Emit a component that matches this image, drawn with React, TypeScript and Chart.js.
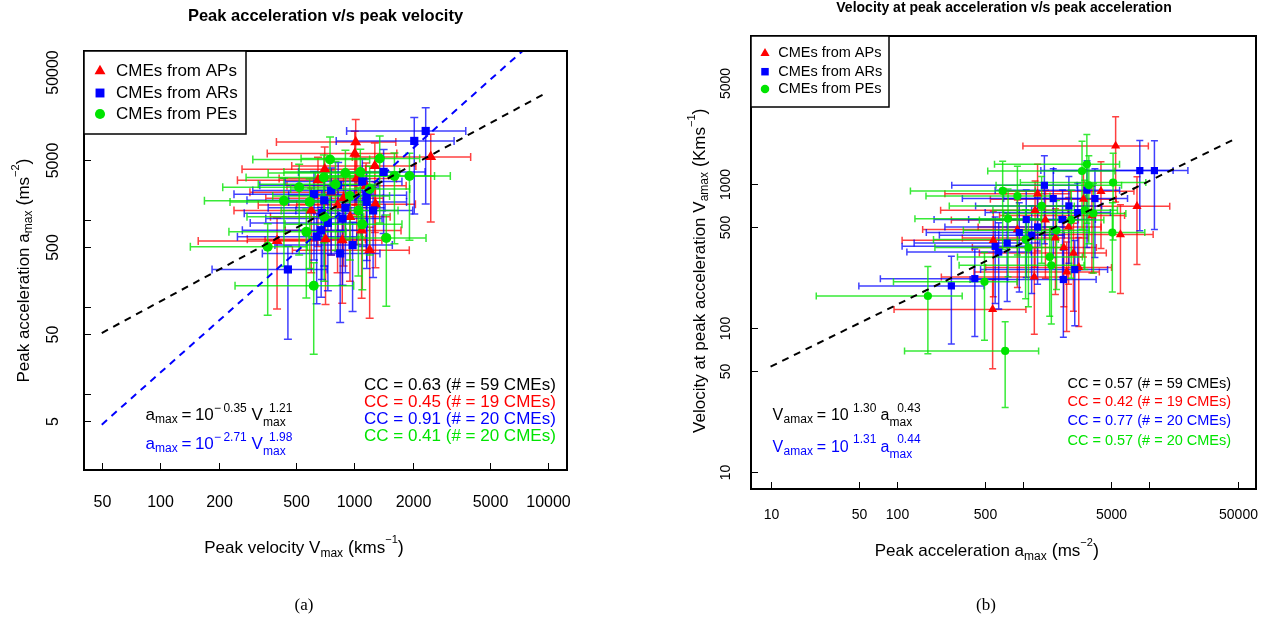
import React, { useEffect, useRef } from "react";
import { Chart, registerables } from "chart.js";

Chart.register(...registerables);

const SANS = '"Liberation Sans", Arial, Helvetica, sans-serif';
const SERIF = '"Liberation Serif", "DejaVu Serif", serif';
const RED = "rgb(255,0,0)";
const BLUE = "rgb(0,0,255)";
const GREEN = "rgb(0,228,0)";
const RED_BAR = "rgba(255,0,0,0.75)";
const BLUE_BAR = "rgba(0,0,255,0.75)";
const GREEN_BAR = "rgba(0,228,0,0.78)";

// ---------- Panel (a): peak velocity Vmax (km/s) vs peak acceleration amax (m/s^2)
const apVmax = [1017, 1006, 2477, 1276, 1285, 400, 1091, 704, 1030, 711, 867, 1200, 760, 880, 600, 1150, 950, 650, 820];
const apAmax = [7950, 5860, 5360, 4225, 1535, 581, 767, 3870, 3030, 608, 592, 455, 2100, 1800, 1300, 2500, 1100, 2900, 1500];
const apVmaxErr = [620, 650, 1500, 800, 780, 243, 650, 440, 620, 430, 520, 720, 470, 530, 360, 700, 580, 400, 500];
const apAmaxErr = [6450, 4700, 4400, 3500, 1250, 485, 640, 3100, 2500, 500, 480, 380, 1700, 1500, 1050, 2050, 900, 2400, 1250];

const arVmax = [2333, 2037, 1416, 826, 1159, 1159, 675, 731, 846, 455, 681, 760, 900, 640, 1100, 980, 620, 1250, 870, 700];
const arAmax = [10640, 8180, 3606, 2535, 1946, 1630, 771, 935, 417, 273, 1209, 2200, 1400, 650, 2800, 520, 2000, 1300, 1050, 1700];
const arVmaxErr = [1420, 1230, 900, 500, 700, 700, 410, 440, 510, 270, 410, 460, 540, 390, 660, 590, 380, 750, 520, 420];
const arAmaxErr = [9100, 7000, 2900, 2100, 1600, 1350, 640, 780, 350, 230, 1000, 1800, 1150, 540, 2300, 430, 1650, 1080, 870, 1400];

const peVmax = [750, 1352, 1610, 1924, 697, 434, 589, 566, 1462, 358, 618, 1074, 800, 950, 1100, 700, 1200, 520, 900, 1050];
const peAmax = [5000, 5130, 3240, 3240, 3105, 1675, 1630, 738, 629, 497, 177, 3600, 2600, 1900, 900, 1100, 2300, 2400, 3500, 1300];
const peVmaxErr = [450, 820, 980, 1200, 420, 265, 360, 340, 880, 215, 375, 640, 480, 570, 660, 420, 730, 310, 540, 630];
const peAmaxErr = [4100, 4200, 2700, 2650, 2550, 1380, 1350, 610, 526, 416, 148, 2950, 2150, 1550, 740, 900, 1900, 2000, 2900, 1070];

// fitted lines
const fitAllVmax = [50, 9440];
const fitAllAmax = [50.8, 28100];
const fitArVmax = [50, 7360];
const fitArAmax = [4.5, 88300];

const aXTicks = [50, 100, 200, 500, 1000, 2000, 5000, 10000];
const aXLabels = ["50", "100", "200", "500", "1000", "2000", "5000", "10000"];
const aYTicks = [5, 10, 50, 100, 500, 1000, 5000, 10000, 50000];
const aYLabels = ["5", "", "50", "", "500", "", "5000", "", "50000"];

// ---------- Panel (b): peak acceleration amax (m/s^2) vs velocity at peak acceleration (km/s)
const apAccB = [5395, 7960, 5890, 4130, 573, 2096, 1225, 2208, 2755, 2290, 1242, 580, 1500, 3000, 1800, 900, 2500, 1300, 3500];
const apVelB = [1824, 695, 443, 885, 134, 360, 225, 244, 262, 500, 653, 404, 560, 780, 420, 480, 330, 850, 600];
const apAccBErr = [4400, 6500, 4800, 3400, 478, 1700, 1000, 1800, 2250, 1850, 1020, 470, 1230, 2450, 1470, 740, 2050, 1060, 2850];
const apVelBErr = [1080, 420, 270, 530, 82, 220, 135, 150, 160, 300, 390, 240, 340, 470, 250, 290, 200, 510, 360];

const arAccB = [8380, 10940, 1472, 1730, 3700, 2700, 2050, 1057, 931, 747, 600, 640, 414, 270, 2560, 2080, 1167, 2300, 1300, 3200];
const arVelB = [1231, 1231, 973, 787, 787, 629, 563, 563, 457, 387, 367, 335, 219, 195, 253, 216, 438, 700, 500, 900];
const arAccBErr = [7000, 9200, 1200, 1400, 3000, 2200, 1680, 860, 760, 610, 490, 520, 340, 220, 2100, 1700, 950, 1880, 1060, 2600];
const arVelBErr = [760, 750, 590, 480, 480, 380, 340, 340, 280, 235, 220, 200, 132, 118, 150, 130, 265, 420, 300, 540];

const peAccB = [3193, 2924, 3310, 5150, 688, 759, 3076, 1836, 5080, 1622, 1671, 494, 176, 720, 1045, 2400, 1400, 3600, 900, 1100];
const peVelB = [1361, 1223, 973, 1016, 889, 571, 653, 474, 457, 310, 271, 208, 166, 69, 409, 560, 700, 620, 820, 360];
const peAccBErr = [2600, 2400, 2700, 4200, 560, 620, 2500, 1500, 4100, 1320, 1360, 400, 153, 605, 850, 1950, 1140, 2900, 730, 900];
const peVelBErr = [830, 740, 590, 610, 540, 345, 400, 290, 280, 190, 165, 126, 100, 41, 250, 340, 420, 380, 500, 220];

const fitAllAccB = [10, 47000];
const fitAllVelB = [53.7, 2030];

const bXTicks = [10, 50, 100, 500, 1000, 5000, 10000, 50000];
const bXLabels = ["10", "50", "100", "500", "", "5000", "", "50000"];
const bYTicks = [10, 50, 100, 500, 1000, 5000, 10000];
const bYLabels = ["10", "50", "100", "500", "1000", "5000", ""];

// ---------- helpers
const pts = (xs: number[], ys: number[]) => xs.map((x, i) => ({ x, y: ys[i] }));

type Group = { xs: number[]; ys: number[]; dx: number[]; dy: number[]; color: string };
type TextItem = [string, number, number, number]; // text, x, baseline y, size
type RichPart = { t: string; s: number; dy?: number };

function shape(ctx: CanvasRenderingContext2D, kind: string, x: number, y: number, r: number, color: string) {
  ctx.fillStyle = color;
  ctx.beginPath();
  if (kind === "triangle") {
    ctx.moveTo(x, y - r);
    ctx.lineTo(x + r * 0.866, y + r * 0.5);
    ctx.lineTo(x - r * 0.866, y + r * 0.5);
    ctx.closePath();
  } else if (kind === "rect") {
    const s = r * Math.SQRT1_2;
    ctx.rect(x - s, y - s, 2 * s, 2 * s);
  } else {
    ctx.arc(x, y, r, 0, Math.PI * 2);
  }
  ctx.fill();
}

function richWidth(ctx: CanvasRenderingContext2D, parts: RichPart[]) {
  let w = 0;
  for (const p of parts) {
    ctx.font = `${p.s}px ${SANS}`;
    w += ctx.measureText(p.t).width;
  }
  return w;
}

function drawRich(ctx: CanvasRenderingContext2D, parts: RichPart[], x0: number, y: number) {
  let x = x0;
  ctx.textAlign = "left";
  ctx.textBaseline = "alphabetic";
  for (const p of parts) {
    ctx.font = `${p.s}px ${SANS}`;
    ctx.fillText(p.t, x, y + (p.dy || 0));
    x += ctx.measureText(p.t).width;
  }
}

interface PanelSpec {
  id: string;
  groups: Group[];
  cap: number;
  xTicks: number[];
  xLabels: string[];
  yTicks: number[];
  yLabels: string[];
  tickLen: number;
  tickFont: number;
  xLabelY: number;
  yLabelX: number;
  title: string;
  titleSize: number;
  titleX: number;
  titleY: number;
  legend: { x0: number; y0: number; x1: number; y1: number; mx: number; tx: number; ys: number[]; size: number; r: number };
  cc: { x: number; ys: number[]; size: number; texts: string[] };
  eqBlack: TextItem[];
  eqBlue: TextItem[];
  xTitle: { parts: RichPart[]; cx: number; base: number };
  yTitle: { parts: RichPart[]; cy: number; base: number };
  caption: { t: string; x: number; y: number };
}

function makeDecor(spec: PanelSpec) {
  return {
    id: spec.id,
    beforeDatasetsDraw(chart: any) {
      const { ctx, chartArea: ca, scales } = chart;
      const xs = scales.x;
      const ys = scales.y;
      ctx.save();
      ctx.beginPath();
      ctx.rect(ca.left, ca.top, ca.right - ca.left, ca.bottom - ca.top);
      ctx.clip();
      ctx.lineWidth = 1.5;
      const h = spec.cap / 2;
      for (const g of spec.groups) {
        ctx.strokeStyle = g.color;
        for (let i = 0; i < g.xs.length; i++) {
          const px = xs.getPixelForValue(g.xs[i]);
          const py = ys.getPixelForValue(g.ys[i]);
          const xl = xs.getPixelForValue(Math.max(g.xs[i] - g.dx[i], g.xs[i] * 0.01));
          const xr = xs.getPixelForValue(g.xs[i] + g.dx[i]);
          const yb = ys.getPixelForValue(Math.max(g.ys[i] - g.dy[i], g.ys[i] * 0.01));
          const yt = ys.getPixelForValue(g.ys[i] + g.dy[i]);
          ctx.beginPath();
          ctx.moveTo(xl, py);
          ctx.lineTo(xr, py);
          ctx.moveTo(xl, py - h);
          ctx.lineTo(xl, py + h);
          ctx.moveTo(xr, py - h);
          ctx.lineTo(xr, py + h);
          ctx.moveTo(px, yb);
          ctx.lineTo(px, yt);
          ctx.moveTo(px - h, yb);
          ctx.lineTo(px + h, yb);
          ctx.moveTo(px - h, yt);
          ctx.lineTo(px + h, yt);
          ctx.stroke();
        }
      }
      ctx.restore();
    },
    afterDraw(chart: any) {
      const { ctx, chartArea: ca, scales } = chart;
      const xs = scales.x;
      const ys = scales.y;
      ctx.save();
      // box
      ctx.strokeStyle = "#000";
      ctx.lineWidth = 2;
      ctx.strokeRect(ca.left, ca.top, ca.right - ca.left, ca.bottom - ca.top);
      // ticks (inward)
      ctx.lineWidth = 1;
      ctx.fillStyle = "#000";
      ctx.font = `${spec.tickFont}px ${SANS}`;
      ctx.textAlign = "center";
      ctx.textBaseline = "middle";
      spec.xTicks.forEach((v, i) => {
        const px = Math.round(xs.getPixelForValue(v)) + 0.5;
        ctx.beginPath();
        ctx.moveTo(px, ca.bottom);
        ctx.lineTo(px, ca.bottom - spec.tickLen);
        ctx.stroke();
        if (spec.xLabels[i]) ctx.fillText(spec.xLabels[i], px, spec.xLabelY);
      });
      spec.yTicks.forEach((v, i) => {
        const py = Math.round(ys.getPixelForValue(v)) + 0.5;
        ctx.beginPath();
        ctx.moveTo(ca.left, py);
        ctx.lineTo(ca.left + spec.tickLen, py);
        ctx.stroke();
        if (spec.yLabels[i]) {
          ctx.save();
          ctx.translate(spec.yLabelX, py);
          ctx.rotate(-Math.PI / 2);
          ctx.fillText(spec.yLabels[i], 0, 0);
          ctx.restore();
        }
      });
      // title
      ctx.font = `bold ${spec.titleSize}px ${SANS}`;
      ctx.textAlign = "center";
      ctx.textBaseline = "middle";
      ctx.fillText(spec.title, spec.titleX, spec.titleY);
      // legend
      const L = spec.legend;
      ctx.fillStyle = "#fff";
      ctx.fillRect(L.x0, L.y0, L.x1 - L.x0, L.y1 - L.y0);
      ctx.strokeStyle = "#000";
      ctx.lineWidth = 1.5;
      ctx.strokeRect(L.x0, L.y0, L.x1 - L.x0, L.y1 - L.y0);
      const kinds = ["triangle", "rect", "circle"];
      const cols = [RED, BLUE, GREEN];
      const names = ["CMEs from APs", "CMEs from ARs", "CMEs from PEs"];
      for (let i = 0; i < 3; i++) {
        shape(ctx, kinds[i], L.mx, L.ys[i], kinds[i] === "circle" ? L.r * 0.8 : L.r, cols[i]);
        ctx.fillStyle = "#000";
        ctx.font = `${L.size}px ${SANS}`;
        ctx.textAlign = "left";
        ctx.textBaseline = "middle";
        ctx.fillText(names[i], L.tx, L.ys[i]);
      }
      // correlation texts
      const ccCols = ["#000", RED, BLUE, GREEN];
      ctx.font = `${spec.cc.size}px ${SANS}`;
      spec.cc.texts.forEach((t, i) => {
        ctx.fillStyle = ccCols[i];
        ctx.fillText(t, spec.cc.x, spec.cc.ys[i]);
      });
      // equations
      ctx.textBaseline = "alphabetic";
      const drawItems = (items: TextItem[], color: string) => {
        ctx.fillStyle = color;
        for (const [t, x, y, s] of items) {
          ctx.font = `${s}px ${SANS}`;
          ctx.fillText(t, x, y);
        }
      };
      drawItems(spec.eqBlack, "#000");
      drawItems(spec.eqBlue, BLUE);
      // axis titles
      ctx.fillStyle = "#000";
      const wx = richWidth(ctx, spec.xTitle.parts);
      drawRich(ctx, spec.xTitle.parts, spec.xTitle.cx - wx / 2, spec.xTitle.base);
      const wy = richWidth(ctx, spec.yTitle.parts);
      ctx.save();
      ctx.translate(spec.yTitle.base, spec.yTitle.cy);
      ctx.rotate(-Math.PI / 2);
      drawRich(ctx, spec.yTitle.parts, -wy / 2, 0);
      ctx.restore();
      // caption
      ctx.font = `17px ${SERIF}`;
      ctx.textAlign = "center";
      ctx.textBaseline = "middle";
      ctx.fillText(spec.caption.t, spec.caption.x, spec.caption.y);
      ctx.restore();
    },
  };
}

function eqShift(items: TextItem[], dy: number): TextItem[] {
  return items.map(([t, x, y, s]) => [t, x, y + dy, s] as TextItem);
}

const eqA: TextItem[] = [
  ["a", 145.5, 419.5, 17],
  ["max", 155, 422.7, 12],
  ["=", 181.4, 419.5, 17],
  ["10", 194.9, 419.5, 17],
  ["\u2212", 214, 411.7, 12],
  ["0.35", 223.4, 411.7, 12],
  ["V", 251.6, 419.5, 17],
  ["1.21", 269, 411.7, 12],
  ["max", 263, 425.7, 12],
];
const eqABlue: TextItem[] = eqShift(
  eqA.map(([t, x, y, s]) => [t === "0.35" ? "2.71" : t === "1.21" ? "1.98" : t, x, y, s] as TextItem),
  29.5
);

const eqB: TextItem[] = [
  ["V", 772.6, 420, 16],
  ["amax", 783.6, 423.3, 12],
  ["=", 816.7, 420, 16],
  ["10", 830.9, 420, 16],
  ["1.30", 853.1, 411.7, 12],
  ["a", 880.6, 420, 16],
  ["0.43", 897.2, 411.7, 12],
  ["max", 889.5, 426, 12],
];
const eqBBlue: TextItem[] = eqShift(
  eqB.map(([t, x, y, s]) => [t === "1.30" ? "1.31" : t === "0.43" ? "0.44" : t, x, y, s] as TextItem),
  31.7
);

function buildConfig(
  scatter: { xs: number[]; ys: number[]; kind: string; color: string; r: number; order: number }[],
  lines: { xs: number[]; ys: number[]; color: string }[],
  padding: { left: number; top: number; right: number; bottom: number },
  xr: [number, number],
  yr: [number, number],
  decor: any
): any {
  const datasets: any[] = [];
  for (const l of lines) {
    datasets.push({
      type: "line",
      data: pts(l.xs, l.ys),
      borderColor: l.color,
      borderWidth: 2,
      borderDash: [7, 6],
      pointRadius: 0,
      showLine: true,
      fill: false,
      tension: 0,
      order: 0,
    });
  }
  for (const s of scatter) {
    datasets.push({
      type: "scatter",
      data: pts(s.xs, s.ys),
      pointStyle: s.kind,
      pointRadius: s.r,
      backgroundColor: s.color,
      borderColor: s.color,
      borderWidth: 0,
      order: s.order,
    });
  }
  return {
    type: "scatter",
    data: { datasets },
    options: {
      responsive: false,
      animation: false,
      events: [],
      layout: { padding },
      plugins: { legend: { display: false }, tooltip: { enabled: false }, title: { display: false } },
      scales: {
        x: { type: "logarithmic", min: xr[0], max: xr[1], display: false, bounds: "data" },
        y: { type: "logarithmic", min: yr[0], max: yr[1], display: false, bounds: "data" },
      },
    },
    plugins: [decor],
  };
}

export default function App() {
  const refA = useRef<HTMLCanvasElement>(null);
  const refB = useRef<HTMLCanvasElement>(null);

  useEffect(() => {
    const decorA = makeDecor({
      id: "decorA",
      groups: [
        { xs: apVmax, ys: apAmax, dx: apVmaxErr, dy: apAmaxErr, color: RED_BAR },
        { xs: arVmax, ys: arAmax, dx: arVmaxErr, dy: arAmaxErr, color: BLUE_BAR },
        { xs: peVmax, ys: peAmax, dx: peVmaxErr, dy: peAmaxErr, color: GREEN_BAR },
      ],
      cap: 8,
      xTicks: aXTicks,
      xLabels: aXLabels,
      yTicks: aYTicks,
      yLabels: aYLabels,
      tickLen: 7,
      tickFont: 16,
      xLabelY: 503,
      yLabelX: 54,
      title: "Peak acceleration v/s peak velocity",
      titleSize: 16.5,
      titleX: 325.5,
      titleY: 16,
      legend: { x0: 84, y0: 51, x1: 246, y1: 134, mx: 100, tx: 116, ys: [71, 93, 114], size: 17, r: 6.3 },
      cc: {
        x: 364,
        ys: [385, 402, 419, 436],
        size: 17,
        texts: ["CC = 0.63 (# = 59 CMEs)", "CC = 0.45 (# = 19 CMEs)", "CC = 0.91 (# = 20 CMEs)", "CC = 0.41 (# = 20 CMEs)"],
      },
      eqBlack: eqA,
      eqBlue: eqABlue,
      xTitle: {
        parts: [
          { t: "Peak velocity V", s: 17 },
          { t: "max", s: 12, dy: 3.5 },
          { t: " (", s: 18 },
          { t: "kms", s: 17 },
          { t: "\u22121", s: 11, dy: -10 },
          { t: ")", s: 18 },
        ],
        cx: 304,
        base: 553,
      },
      yTitle: {
        parts: [
          { t: "Peak acceleration a", s: 17 },
          { t: "max", s: 12, dy: 3.5 },
          { t: " (", s: 18 },
          { t: "ms", s: 17 },
          { t: "\u22122", s: 11, dy: -10 },
          { t: ")", s: 18 },
        ],
        cy: 270.5,
        base: 28.5,
      },
      caption: { t: "(a)", x: 304, y: 606 },
    });

    const decorB = makeDecor({
      id: "decorB",
      groups: [
        { xs: apAccB, ys: apVelB, dx: apAccBErr, dy: apVelBErr, color: RED_BAR },
        { xs: arAccB, ys: arVelB, dx: arAccBErr, dy: arVelBErr, color: BLUE_BAR },
        { xs: peAccB, ys: peVelB, dx: peAccBErr, dy: peVelBErr, color: GREEN_BAR },
      ],
      cap: 7,
      xTicks: bXTicks,
      xLabels: bXLabels,
      yTicks: bYTicks,
      yLabels: bYLabels,
      tickLen: 7,
      tickFont: 14,
      xLabelY: 515,
      yLabelX: 726,
      title: "Velocity at peak acceleration v/s peak acceleration",
      titleSize: 14,
      titleX: 1004,
      titleY: 8,
      legend: { x0: 751, y0: 36, x1: 889, y1: 107, mx: 765, tx: 778.3, ys: [53.3, 71.7, 89], size: 14.5, r: 5.3 },
      cc: {
        x: 1067.5,
        ys: [384.3, 401.7, 420.7, 441],
        size: 14.5,
        texts: ["CC = 0.57 (# = 59 CMEs)", "CC = 0.42 (# = 19 CMEs)", "CC = 0.77 (# = 20 CMEs)", "CC = 0.57 (# = 20 CMEs)"],
      },
      eqBlack: eqB,
      eqBlue: eqBBlue,
      xTitle: {
        parts: [
          { t: "Peak acceleration a", s: 17 },
          { t: "max", s: 12, dy: 3.5 },
          { t: " (", s: 18 },
          { t: "ms", s: 17 },
          { t: "\u22122", s: 11, dy: -10 },
          { t: ")", s: 18 },
        ],
        cx: 986.8,
        base: 556,
      },
      yTitle: {
        parts: [
          { t: "Velocity at peak acceleration V", s: 17 },
          { t: "amax", s: 12, dy: 3.5 },
          { t: " (", s: 18 },
          { t: "Kms", s: 17 },
          { t: "\u22121", s: 11, dy: -10 },
          { t: ")", s: 18 },
        ],
        cy: 270.7,
        base: 704.5,
      },
      caption: { t: "(b)", x: 986, y: 606 },
    });

    const cfgA = buildConfig(
      [
        { xs: peVmax, ys: peAmax, kind: "circle", color: GREEN, r: 5, order: 1 },
        { xs: arVmax, ys: arAmax, kind: "rect", color: BLUE, r: 5.8, order: 2 },
        { xs: apVmax, ys: apAmax, kind: "triangle", color: RED, r: 6.3, order: 3 },
      ],
      [
        { xs: fitAllVmax, ys: fitAllAmax, color: "#000" },
        { xs: fitArVmax, ys: fitArAmax, color: BLUE },
      ],
      { left: 84, top: 51, right: 1274 - 567, bottom: 624 - 470 },
      [40.5, 12470],
      [1.355, 88300],
      decorA
    );

    const cfgB = buildConfig(
      [
        { xs: peAccB, ys: peVelB, kind: "circle", color: GREEN, r: 4.1, order: 1 },
        { xs: arAccB, ys: arVelB, kind: "rect", color: BLUE, r: 5.1, order: 2 },
        { xs: apAccB, ys: apVelB, kind: "triangle", color: RED, r: 5.3, order: 3 },
      ],
      [{ xs: fitAllAccB, ys: fitAllVelB, color: "#000" }],
      { left: 751, top: 36, right: 1274 - 1256, bottom: 624 - 489 },
      [7.0, 69700],
      [7.6, 10570],
      decorB
    );

    const a = new Chart(refA.current as HTMLCanvasElement, cfgA);
    const b = new Chart(refB.current as HTMLCanvasElement, cfgB);
    return () => {
      a.destroy();
      b.destroy();
    };
  }, []);

  return (
    <div style={{ position: "absolute", left: 0, top: 0, width: 1274, height: 624, background: "#fff", overflow: "hidden" }}>
      <canvas ref={refA} width={1274} height={624} style={{ position: "absolute", left: 0, top: 0 }} />
      <canvas ref={refB} width={1274} height={624} style={{ position: "absolute", left: 0, top: 0 }} />
    </div>
  );
}
